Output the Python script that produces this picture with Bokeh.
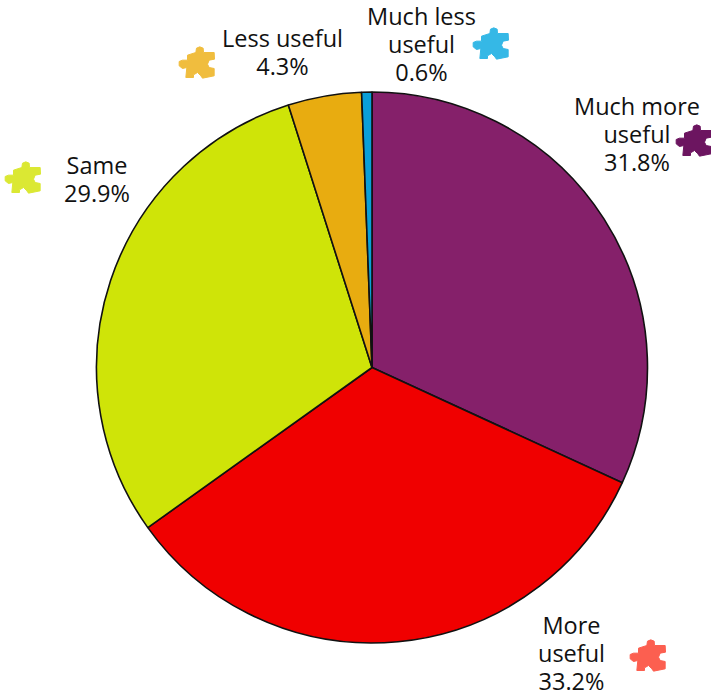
from bokeh.plotting import figure
from bokeh.models import Range1d
from bokeh.core.properties import value
from bokeh.embed import file_html
from bokeh.resources import INLINE
import math

labels = ["Much more\nuseful\n31.8%", "More\nuseful\n33.2%", "Same\n29.9%", "Less useful\n4.3%", "Much less\nuseful\n0.6%"]
values = [31.8, 33.2, 29.9, 4.3, 0.6]
colors = ["#85206A", "#F00000", "#CFE408", "#E8AC10", "#0A9FD8"]
icon_colors = ["#6C1560", "#FC5F50", "#DBE833", "#F0BD3E", "#35B8E6"]

W, H = 711, 694
p = figure(width=W, height=H, output_backend="svg", toolbar_location=None,
           x_range=Range1d(0, W), y_range=Range1d(0, H), min_border=0,
           outline_line_color=None)
p.axis.visible = False
p.grid.visible = False

Y = lambda y: H - y
cx, cy, r = 371.5, Y(367), 275.5
total = sum(values)
start, ends, starts = math.pi / 2, [], []
for v in values:
    end = start - v / total * 2 * math.pi
    starts.append(end)
    ends.append(start)
    start = end
p.wedge(x=[cx] * 5, y=[cy] * 5, radius=r, start_angle=starts, end_angle=ends, fill_color=colors,
        line_color="#111111", line_width=1.6)

label_pos = [(636.5, 133), (571, 652), (96.5, 178), (282, 51), (421, 43)]
for lab, (x, y) in zip(labels, label_pos):
    p.text(x=[x], y=[Y(y)], text=[lab], text_align="center", text_baseline="middle",
           text_font=value("Open Sans"), text_font_size="23.5px", text_color="#111111", text_line_height=0.875)

# jigsaw-piece outline in screen pixels x3, relative to the icon's centre
piece = [(-2,-30),(0,-43),(10,-47),(20,-43),(21,-30),(53,-30),(54,-10),(38,-7),(33,5),(38,15),(53,18),(53,40),
         (18,47),(13,40),(3,30),(-9,37),(-9,45),(-32,45),(-29,15),(-42,18),(-52,10),(-52,-3),(-42,-7),(-27,-7),(-27,-22)]
icon_pos = [(693, 140), (647, 655), (22, 177), (196, 62), (490, 43)]
for col, (x, y) in zip(icon_colors, icon_pos):
    p.patch([x + a / 3 for a, b in piece], [Y(y) - b / 3 for a, b in piece], fill_color=col, line_color=col, line_width=1, line_join="round")

open("out.html", "w").write(file_html(p, INLINE))
